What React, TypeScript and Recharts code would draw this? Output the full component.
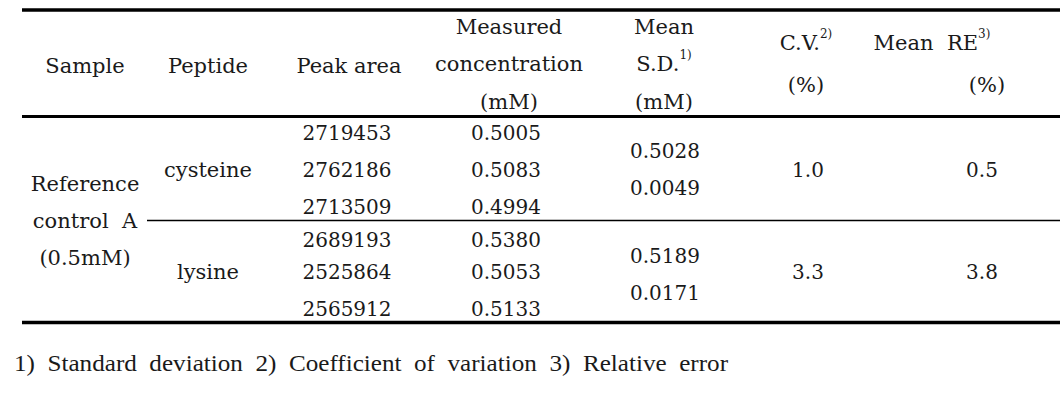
import { ScatterChart, Scatter, XAxis, YAxis, ReferenceLine } from "recharts";

// table contents
const headers = [
  ["Sample"],
  ["Peptide"],
  ["Peak area"],
  ["Measured", "concentration", "(mM)"],
  ["Mean", "S.D.|1)", "(mM)"],
  ["C.V.|2)", "(%)"],
  ["Mean  RE|3)", "(%)"],
];
const sampleLabel = ["Reference", "control  A", "(0.5mM)"];
const peptides = ["cysteine", "lysine"];
const peakAreas = [
  ["2719453", "2762186", "2713509"],
  ["2689193", "2525864", "2565912"],
];
const measured = [
  ["0.5005", "0.5083", "0.4994"],
  ["0.5380", "0.5053", "0.5133"],
];
const means = ["0.5028", "0.5189"];
const sds = ["0.0049", "0.0171"];
const cvs = ["1.0", "3.3"];
const meanREs = ["0.5", "3.8"];
const footnote =
  "1)  Standard  deviation  2)  Coefficient  of  variation  3)  Relative  error";

// layout (px in the 1062x411 frame)
const W = 1062;
const H = 411;
const headerX = [85, 208, 349, 509, 664, 806, 0];
const headerY: Record<number, number[]> = {
  1: [66],
  2: [43, 85],
  3: [27, 64, 102],
};
const rowY = [133, 170, 207, 240, 272, 309];
const colX = { peak: 347, meas: 506, mean: 665, cv: 808, re: 982 };

type Cell = { x: number; y: number; label: string; kind?: string };

const cells: Cell[] = [];
headers.forEach((lines, i) => {
  const ys = headerY[lines.length];
  lines.forEach((l, j) => {
    let x = headerX[i];
    if (i === 6) x = j === 0 ? 932 : 987;
    cells.push({ x, y: ys[j], label: l, kind: "word" });
  });
});
sampleLabel.forEach((l, j) =>
  cells.push({ x: 85, y: 184 + j * 37, label: l, kind: "word" })
);
peptides.forEach((p, g) => {
  cells.push({ x: 208, y: rowY[g * 3 + 1], label: p, kind: "word" });
  peakAreas[g].forEach((v, k) => cells.push({ x: colX.peak, y: rowY[g * 3 + k], label: v }));
  measured[g].forEach((v, k) => cells.push({ x: colX.meas, y: rowY[g * 3 + k], label: v }));
  const mid = (rowY[g * 3] + rowY[g * 3 + 2]) / 2;
  cells.push({ x: colX.mean, y: mid - 19, label: means[g] });
  cells.push({ x: colX.mean, y: mid + 18, label: sds[g] });
  cells.push({ x: colX.cv, y: rowY[g * 3 + 1], label: cvs[g] });
  cells.push({ x: colX.re, y: rowY[g * 3 + 1], label: meanREs[g] });
});

const footCells: Cell[] = [{ x: 14, y: 363, label: footnote, kind: "foot" }];

const TextShape = (props: any) => {
  const { cx, cy, payload } = props;
  if (payload.kind === "foot") {
    return (
      <text
        x={cx}
        y={cy}
        dominantBaseline="central"
        fontFamily="Liberation Serif"
        fontSize={23}
        fill="#1a1a1a"
        textLength={714}
        lengthAdjust="spacingAndGlyphs"
        style={{ whiteSpace: "pre" }}
      >
        {payload.label}
      </text>
    );
  }
  const [main, sup] = String(payload.label).split("|");
  return (
    <text
      x={cx}
      y={cy}
      textAnchor="middle"
      dominantBaseline="central"
      fontFamily="DejaVu Serif"
      fontSize={payload.kind === "word" ? 21 : 20}
      fill="#1a1a1a"
      style={{ whiteSpace: "pre" }}
    >
      {main}
      {sup && (
        <tspan fontSize={12} dy={-9}>
          {sup}
        </tspan>
      )}
    </text>
  );
};

export default function App() {
  return (
    <div style={{ position: "absolute", left: 0, top: 0, background: "#fff" }}>
      <ScatterChart width={W} height={H} margin={{ top: 0, right: 0, bottom: 0, left: 0 }}>
        <XAxis type="number" dataKey="x" domain={[0, W]} hide />
        <YAxis type="number" dataKey="y" domain={[0, H]} reversed hide />
        <ReferenceLine segment={[{ x: 22, y: 10 }, { x: 1060, y: 10 }]} stroke="#000" strokeWidth={3.5} />
        <ReferenceLine segment={[{ x: 22, y: 116.5 }, { x: 1060, y: 116.5 }]} stroke="#000" strokeWidth={3} />
        <ReferenceLine segment={[{ x: 147, y: 220.5 }, { x: 1060, y: 220.5 }]} stroke="#000" strokeWidth={1.3} />
        <ReferenceLine segment={[{ x: 22, y: 322.5 }, { x: 1060, y: 322.5 }]} stroke="#000" strokeWidth={3.5} />
        <Scatter data={cells} shape={TextShape} isAnimationActive={false} />
        <Scatter data={footCells} shape={TextShape} isAnimationActive={false} />
      </ScatterChart>
    </div>
  );
}
